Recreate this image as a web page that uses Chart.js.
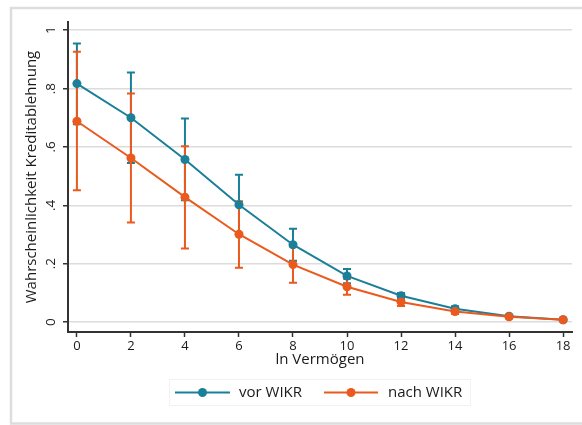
<!DOCTYPE html>
<html>
<head>
<meta charset="utf-8">
<script src="https://cdn.jsdelivr.net/npm/chart.js@4/dist/chart.umd.min.js"></script>
<style>
html,body{margin:0;padding:0;background:#fff;}
#wrap{position:relative;width:582px;height:425px;}
</style>
</head>
<body>
<div id="wrap"><canvas id="c" width="582" height="425"></canvas></div>
<script>
// ---- data ----
const xValues   = [0, 2, 4, 6, 8, 10, 12, 14, 16, 18];
const vorMean   = [0.817, 0.700, 0.557, 0.402, 0.265, 0.158, 0.090, 0.046, 0.020, 0.008];
const vorLow    = [0.678, 0.545, 0.417, 0.300, 0.210, 0.133, 0.078, 0.038, 0.015, 0.005];
const vorHigh   = [0.954, 0.855, 0.697, 0.505, 0.320, 0.182, 0.100, 0.054, 0.025, 0.011];
const nachMean  = [0.688, 0.562, 0.428, 0.301, 0.197, 0.121, 0.069, 0.036, 0.018, 0.008];
const nachLow   = [0.452, 0.341, 0.252, 0.186, 0.135, 0.094, 0.055, 0.028, 0.013, 0.005];
const nachHigh  = [0.926, 0.783, 0.602, 0.414, 0.259, 0.148, 0.083, 0.044, 0.023, 0.011];
const xTicks    = [0, 2, 4, 6, 8, 10, 12, 14, 16, 18];
const yTicks    = [0, 0.2, 0.4, 0.6, 0.8, 1];
const yTickLabels = ['0', '.2', '.4', '.6', '.8', '1'];
const seriesNames = ['vor WIKR', 'nach WIKR'];
const xTitle = 'ln Vermögen';
const yTitle = 'Wahrscheinlichkeit Kreditablehnung';

const TEAL = '#1a7f98';
const ORANGE = '#ea5a1e';
const FONT = "'Open Sans', sans-serif";
const TXT = '#1a1a1a';

const toPts = (ys) => xValues.map((x, i) => ({x: x, y: ys[i]}));

const bgPlugin = {
  id: 'bg',
  beforeDraw(chart) {
    const ctx = chart.ctx;
    ctx.save();
    ctx.fillStyle = '#fff';
    ctx.fillRect(0, 0, chart.width, chart.height);
    ctx.strokeStyle = '#dddddd';
    ctx.lineWidth = 2.5;
    ctx.beginPath();
    ctx.moveTo(582, 8); ctx.lineTo(11, 8); ctx.lineTo(11, 423.5); ctx.lineTo(582, 423.5);
    ctx.stroke();
    ctx.restore();
  }
};

const errPlugin = {
  id: 'errbars',
  beforeDatasetsDraw(chart) {
    const ctx = chart.ctx;
    const xs = chart.scales.x, ys = chart.scales.y;
    const sets = [[vorLow, vorHigh, TEAL], [nachLow, nachHigh, ORANGE]];
    ctx.save();
    ctx.lineWidth = 2;
    sets.forEach(([lo, hi, col]) => {
      ctx.strokeStyle = col;
      xValues.forEach((x, i) => {
        const px = xs.getPixelForValue(x);
        const p1 = ys.getPixelForValue(lo[i]);
        const p2 = ys.getPixelForValue(hi[i]);
        ctx.beginPath();
        ctx.moveTo(px, p1); ctx.lineTo(px, p2);
        ctx.moveTo(px - 4, p1); ctx.lineTo(px + 4, p1);
        ctx.moveTo(px - 4, p2); ctx.lineTo(px + 4, p2);
        ctx.stroke();
      });
    });
    ctx.restore();
  }
};

const yLabelPlugin = {
  id: 'ylabels',
  afterDraw(chart) {
    const ctx = chart.ctx;
    const ys = chart.scales.y;
    ctx.save();
    ctx.fillStyle = TXT;
    ctx.font = '13.5px ' + FONT;
    ctx.textAlign = 'center';
    ctx.textBaseline = 'middle';
    yTicks.forEach((v, i) => {
      const py = ys.getPixelForValue(v);
      ctx.save();
      ctx.translate(51, py);
      ctx.rotate(-Math.PI / 2);
      ctx.fillText(yTickLabels[i], 0, 0);
      ctx.restore();
    });
    ctx.restore();
  }
};

const legendPlugin = {
  id: 'customLegend',
  afterDraw(chart) {
    const ctx = chart.ctx;
    ctx.save();
    ctx.strokeStyle = '#f2f2f2';
    ctx.lineWidth = 1;
    ctx.strokeRect(169.5, 379.5, 301, 26);
    const items = [
      {col: TEAL, x0: 175, x1: 230, tx: 239, name: seriesNames[0]},
      {col: ORANGE, x0: 324, x1: 378, tx: 388, name: seriesNames[1]}
    ];
    const y = 392.5;
    items.forEach(it => {
      ctx.strokeStyle = it.col;
      ctx.lineWidth = 2;
      ctx.beginPath(); ctx.moveTo(it.x0, y); ctx.lineTo(it.x1, y); ctx.stroke();
      ctx.fillStyle = it.col;
      ctx.beginPath(); ctx.arc((it.x0 + it.x1) / 2, y, 4.5, 0, Math.PI * 2); ctx.fill();
      ctx.fillStyle = TXT;
      ctx.font = '15px ' + FONT;
      ctx.textAlign = 'left';
      ctx.textBaseline = 'middle';
      ctx.fillText(it.name, it.tx, y);
    });
    ctx.restore();
  }
};

new Chart(document.getElementById('c'), {
  type: 'line',
  data: {
    datasets: [
      {label: seriesNames[0], data: toPts(vorMean), borderColor: TEAL, backgroundColor: TEAL,
       borderWidth: 2, pointRadius: 4.5, pointBorderWidth: 0, pointHoverRadius: 4.5, tension: 0, order: 1},
      {label: seriesNames[1], data: toPts(nachMean), borderColor: ORANGE, backgroundColor: ORANGE,
       borderWidth: 2, pointRadius: 4.5, pointBorderWidth: 0, pointHoverRadius: 4.5, tension: 0, order: 0}
    ]
  },
  options: {
    responsive: false,
    animation: false,
    events: [],
    layout: {padding: {top: 22, right: 10, left: 0, bottom: 0}},
    plugins: {legend: {display: false}, tooltip: {enabled: false}},
    scales: {
      x: {
        type: 'linear', min: -0.33, max: 18.33,
        afterBuildTicks: (s) => { s.ticks = xTicks.map(v => ({value: v})); },
        afterFit: (s) => { s.height = 93; },
        grid: {drawOnChartArea: false, drawTicks: true, tickLength: 5, tickColor: '#333', tickWidth: 1.5},
        border: {color: '#333', width: 2},
        ticks: {color: TXT, font: {family: FONT, size: 13}, padding: 1, maxRotation: 0, autoSkip: false,
                callback: (v) => String(v)},
        title: {display: true, text: xTitle, color: TXT, font: {family: FONT, size: 15}, padding: {top: 0, bottom: 56}}
      },
      y: {
        type: 'linear', min: -0.034, max: 1.028,
        afterBuildTicks: (s) => { s.ticks = yTicks.map(v => ({value: v})); },
        afterFit: (s) => { s.width = 68; },
        grid: {color: '#dcdcdc', lineWidth: 1.5, drawTicks: true, tickLength: 5, tickColor: '#333', tickWidth: 1.5},
        border: {color: '#333', width: 2},
        ticks: {display: false},
        title: {display: true, text: yTitle, color: TXT, font: {family: FONT, size: 15}, padding: {top: 23, bottom: 0}}
      }
    }
  },
  plugins: [bgPlugin, errPlugin, yLabelPlugin, legendPlugin]
});
</script>
</body>
</html>
